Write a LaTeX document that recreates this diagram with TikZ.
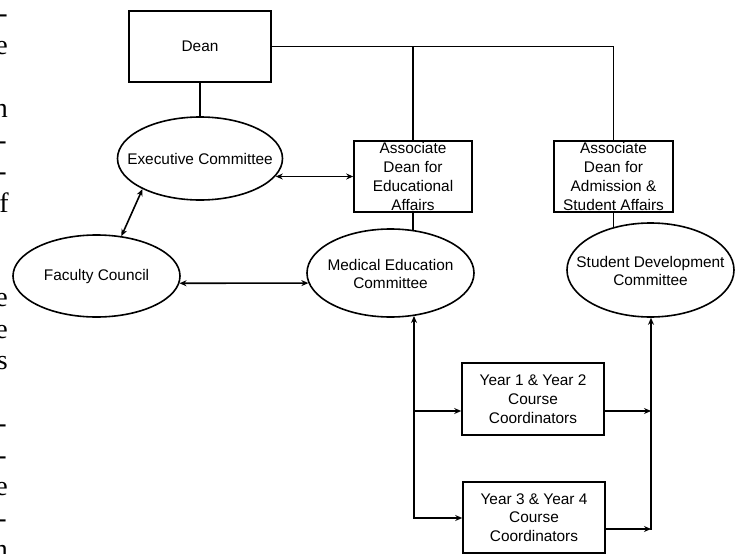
\documentclass[tikz,border=0pt]{standalone}
\usepackage{fontspec}
\setmainfont{Liberation Sans}
\newfontfamily\pagefont{Liberation Serif}
\usetikzlibrary{shapes.geometric,arrows.meta}

\begin{document}
\begin{tikzpicture}[x=1pt,y=-1pt,
  every node/.style={font=\fontsize{15.4}{18.7}\selectfont, align=center, inner sep=0pt},
  office/.style={draw, rectangle, line width=1.6pt},
  board/.style={draw, ellipse, line width=1.6pt},
  link/.style={line width=1.6pt, line cap=rect},
  tip/.tip={Stealth[length=7pt,width=6pt]},
  both/.style={link, tip-tip},
  feed/.style={link, -tip},
  margintext/.style={font=\pagefont\fontsize{28}{31.5}\selectfont, anchor=base east}
]
\fill[white] (0,0) rectangle (740,554);
\useasboundingbox (0,0) rectangle (740,554);

% ragged ends of the neighbouring text column
\begin{scope}
  \clip (0,0) rectangle (740,554);
  \node[margintext] (m01) at (8,23)    {-};
  \node[margintext] (m02) at (8,54.5)  {e};
  \node[margintext] (m03) at (8,117.5) {n};
  \node[margintext] (m04) at (7,149)   {-};
  \node[margintext] (m05) at (7,180.5) {-};
  \node[margintext] (m06) at (9,212)   {ff};
  \node[margintext] (m07) at (8,306.5) {e};
  \node[margintext] (m08) at (8,338)   {e};
  \node[margintext] (m09) at (8,369.5) {s};
  \node[margintext] (m10) at (7,432.5) {-};
  \node[margintext] (m11) at (7,464)   {-};
  \node[margintext] (m12) at (8,495.5) {e};
  \node[margintext] (m13) at (7,527)   {-};
  \node[margintext] (m14) at (8,558.5) {n};
\end{scope}

% offices
\node[office, minimum width=142pt, minimum height=71pt] (dean) at (200,46.5) {Dean};
\node[office, minimum width=118pt, minimum height=71pt] (ade) at (413,176.5)
  {Associate\\Dean for\\Educational\\Affairs};
\node[office, minimum width=119pt, minimum height=71pt] (ada) at (613.5,176.5)
  {Associate\\Dean for\\Admission \&\\Student Affairs};
\node[office, minimum width=142pt, minimum height=72pt] (yra) at (533,399)
  {Year 1 \& Year 2\\Course\\Coordinators};
\node[office, minimum width=142pt, minimum height=71pt] (yrb) at (534,517.5)
  {Year 3 \& Year 4\\Course\\Coordinators};

% committees
\node[board, minimum width=165pt, minimum height=83pt] (exec) at (200,158.5) {};
\node (exectext) at (200,158.5) {Executive Committee};
\node[board, minimum width=167pt, minimum height=82pt] (fac) at (96.5,276) {};
\node (factext) at (96.5,277) {Faculty Council};
\node[board, minimum width=167pt, minimum height=88pt] (med) at (390.5,273) {};
\node (medtext) at (390.5,274) {Medical Education\\Committee};
\node[board, minimum width=167pt, minimum height=94pt] (sdc) at (650.5,270) {};
\node (sdctext) at (650.5,271) {Student Development\\Committee};

% reporting lines
\draw[link] (dean.south) -- (exec.north);
\draw[link] (dean.east) -| (ada.north);
\draw[link] (dean.east -| ade.north) -- (ade.north);
\draw[link] (ade.south) -- (ade.south |- med.62);
\draw[link] (ada.south) -- (ada.south |- sdc.132);

% two-way links
\draw[both] (exec.-13 |- ade.west) -- (ade.west);
\draw[both] (exec.208) -- (fac.58);
\draw[both] (fac.-5) -- (med.187);

% course coordinators
\coordinate (lbus) at (414,518);
\coordinate (lmid) at (414,411);
\coordinate (rbus) at (651,529);
\coordinate (rmid) at (651,411);
\draw[feed] (lbus) -- (lbus |- med.-61);
\draw[feed] (lbus) -- (lbus -| yrb.west);
\draw[feed] (lmid) -- (lmid -| yra.west);
\draw[feed] (yra.east |- rmid) -- (rmid);
\draw[feed] (yrb.east |- rbus) -- (rbus);
\draw[feed] (rbus) -- (rbus |- sdc.south);
\end{tikzpicture}
\end{document}
